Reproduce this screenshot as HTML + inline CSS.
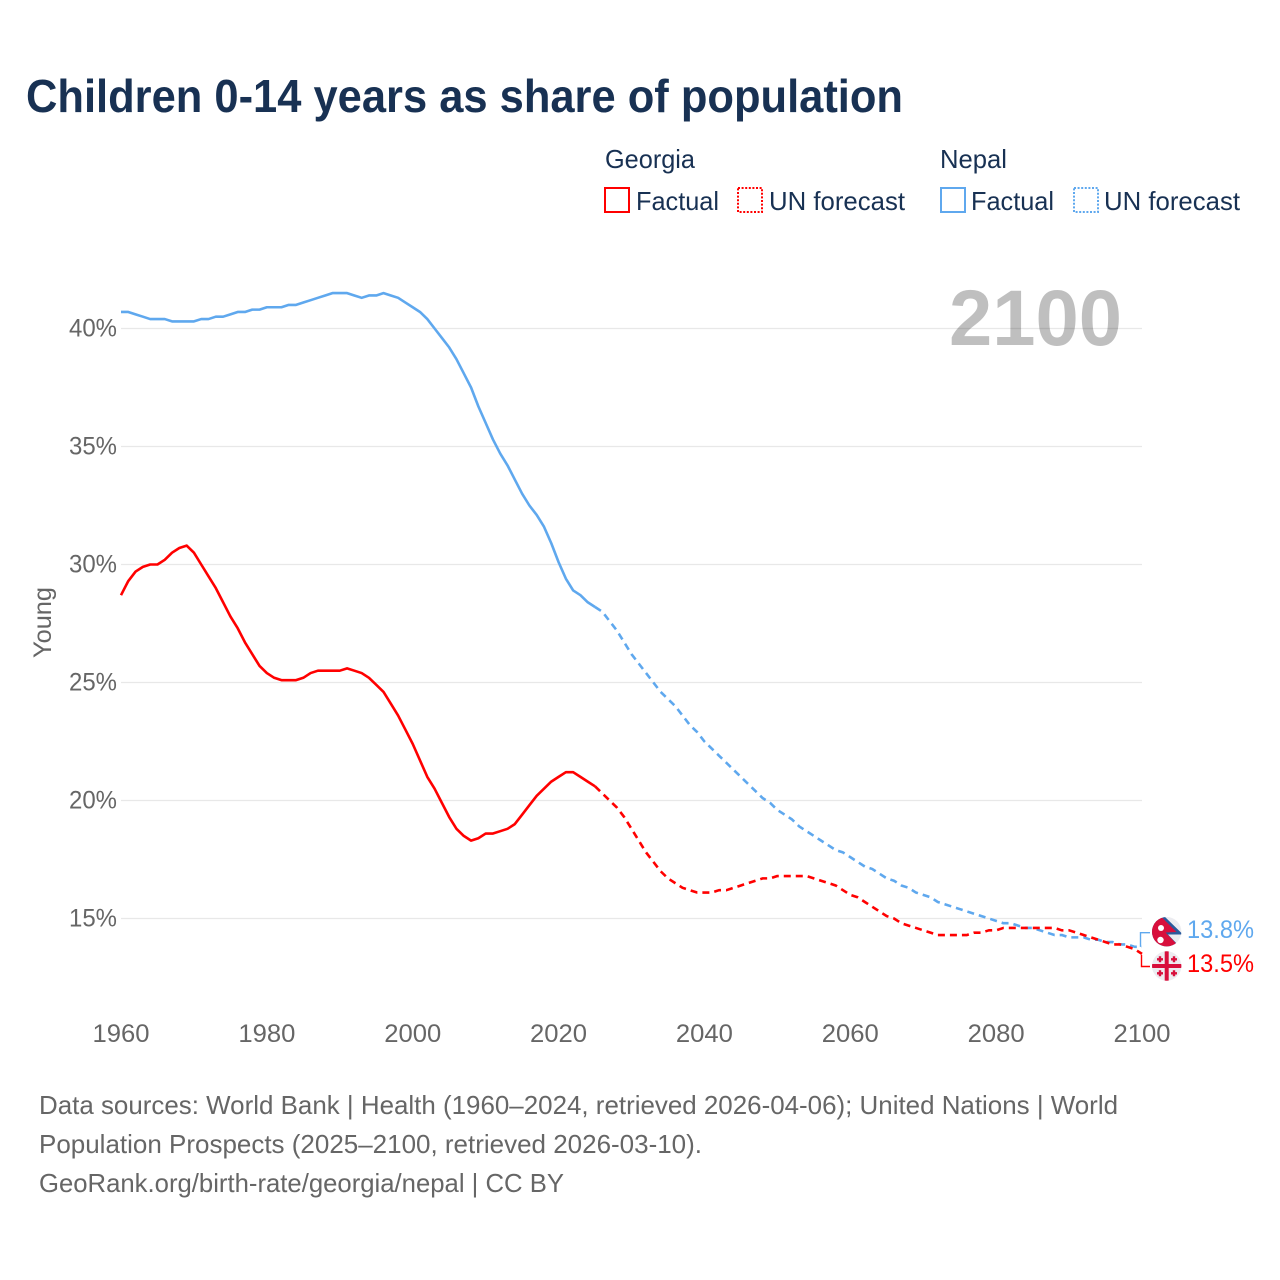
<!DOCTYPE html>
<html>
<head>
<meta charset="utf-8">
<title>Children 0-14 years as share of population</title>
<style>
html,body{margin:0;padding:0;background:#fff;width:1280px;height:1280px;overflow:hidden}
svg{display:block;font-family:"Liberation Sans",sans-serif}
</style>
</head>
<body>
<svg id="chart" width="1280" height="1280" viewBox="0 0 1280 1280" xmlns="http://www.w3.org/2000/svg">
  <rect width="1280" height="1280" fill="#fff"/>
  <text x="26" y="112" font-size="46" font-weight="700" fill="#183153" textLength="877" lengthAdjust="spacingAndGlyphs">Children 0-14 years as share of population</text>

  <g font-size="26" fill="#183153">
    <text x="605" y="168" textLength="90" lengthAdjust="spacingAndGlyphs">Georgia</text>
    <rect x="605" y="188" width="24" height="24" fill="none" stroke="#ff0000" stroke-width="2"/>
    <text x="636" y="210" textLength="83" lengthAdjust="spacingAndGlyphs">Factual</text>
    <rect x="738" y="188" width="24" height="24" fill="none" stroke="#ff0000" stroke-width="2" stroke-dasharray="2 1.6"/>
    <text x="769" y="210" textLength="136" lengthAdjust="spacingAndGlyphs">UN forecast</text>
    <text x="940" y="168" textLength="67" lengthAdjust="spacingAndGlyphs">Nepal</text>
    <rect x="941" y="188" width="24" height="24" fill="none" stroke="#5fa8ee" stroke-width="2"/>
    <text x="971" y="210" textLength="83" lengthAdjust="spacingAndGlyphs">Factual</text>
    <rect x="1074" y="188" width="24" height="24" fill="none" stroke="#5fa8ee" stroke-width="2" stroke-dasharray="2 1.6"/>
    <text x="1104" y="210" textLength="136" lengthAdjust="spacingAndGlyphs">UN forecast</text>
  </g>

  <g id="grid"></g>
  <g id="yticks" font-size="25" fill="#666"></g>
  <g id="xticks" font-size="25" fill="#666"></g>
  <text transform="translate(51,658) rotate(-90)" font-size="25" fill="#666" textLength="71" lengthAdjust="spacingAndGlyphs">Young</text>
  <text x="949" y="345" font-size="79" font-weight="700" fill="#000" fill-opacity="0.25" textLength="173" lengthAdjust="spacingAndGlyphs">2100</text>
  <g id="series"></g>
  <g id="ends" font-size="25"></g>

  <defs>
    <clipPath id="nepal-clip"><circle cx="1166.7" cy="931.7" r="14.7"/></clipPath>
    <clipPath id="georgia-clip"><circle cx="1166.7" cy="966" r="14.7"/></clipPath>
  </defs>
  <g>
    <g clip-path="url(#nepal-clip)">
      <rect x="1150" y="915" width="34" height="34" fill="#ececf0"/>
      <polygon points="1150,906 1164,916 1183,934.5 1168,934.5 1181,948 1181,950 1150,950" fill="#2a5a9c"/>
      <polygon points="1150,908 1163,918.5 1176.5,932 1165.5,932.5 1180,947.5 1180,950 1150,950" fill="#d80f3c"/>
      <circle cx="1161" cy="928" r="3" fill="#fff"/>
      <circle cx="1160.5" cy="940" r="3.2" fill="#fff"/>
    </g>
  </g>
  <g clip-path="url(#georgia-clip)">
    <rect x="1150" y="949" width="34" height="34" fill="#ececf0"/>
    <rect x="1164.7" y="949" width="4" height="34" fill="#d80f3c"/>
    <rect x="1150" y="964" width="34" height="4" fill="#d80f3c"/>
    <path d="M1158.8 956.3h2.4v1.8h1.8v2.4h-1.8v1.8h-2.4v-1.8h-1.8v-2.4h1.8zM1172.8 956.3h2.4v1.8h1.8v2.4h-1.8v1.8h-2.4v-1.8h-1.8v-2.4h1.8zM1158.8 970.3h2.4v1.8h1.8v2.4h-1.8v1.8h-2.4v-1.8h-1.8v-2.4h1.8zM1172.8 970.3h2.4v1.8h1.8v2.4h-1.8v1.8h-2.4v-1.8h-1.8v-2.4h1.8z" fill="#d80f3c"/>
  </g>

  <g font-size="26" fill="#666">
    <text x="39" y="1114" textLength="1079" lengthAdjust="spacingAndGlyphs">Data sources: World Bank | Health (1960–2024, retrieved 2026-04-06); United Nations | World</text>
    <text x="39" y="1153" textLength="663" lengthAdjust="spacingAndGlyphs">Population Prospects (2025–2100, retrieved 2026-03-10).</text>
    <text x="39" y="1192" textLength="525" lengthAdjust="spacingAndGlyphs">GeoRank.org/birth-rate/georgia/nepal | CC BY</text>
  </g>
</svg>
<script>
const xTickYears = [1960, 1980, 2000, 2020, 2040, 2060, 2080, 2100];
const yTickValues = [15, 20, 25, 30, 35, 40];
const factualStartYear = 1960;
const forecastStartYear = 2025;
const nepalFactual = [
  40.7,40.7,40.6,40.5,40.4,40.4,40.4,40.3,40.3,40.3,
  40.3,40.4,40.4,40.5,40.5,40.6,40.7,40.7,40.8,40.8,
  40.9,40.9,40.9,41.0,41.0,41.1,41.2,41.3,41.4,41.5,
  41.5,41.5,41.4,41.3,41.4,41.4,41.5,41.4,41.3,41.1,
  40.9,40.7,40.4,40.0,39.6,39.2,38.7,38.1,37.5,36.7,
  36.0,35.3,34.7,34.2,33.6,33.0,32.5,32.1,31.6,30.9,
  30.1,29.4,28.9,28.7,28.4,28.2
];
const nepalForecast = [
  28.2,28.0,27.6,27.2,26.7,26.2,25.8,25.4,25.0,24.6,
  24.3,24.0,23.6,23.2,22.9,22.5,22.2,21.9,21.6,21.3,
  21.0,20.7,20.4,20.1,19.9,19.6,19.4,19.2,18.9,18.7,
  18.5,18.3,18.1,17.9,17.8,17.6,17.4,17.2,17.1,16.9,
  16.7,16.6,16.4,16.3,16.1,16.0,15.9,15.7,15.6,15.5,
  15.4,15.3,15.2,15.1,15.0,14.9,14.8,14.8,14.7,14.6,
  14.6,14.5,14.4,14.3,14.3,14.2,14.2,14.2,14.1,14.1,
  14.0,14.0,13.9,13.9,13.8,13.8
];
const georgiaFactual = [
  28.7,29.3,29.7,29.9,30.0,30.0,30.2,30.5,30.7,30.8,
  30.5,30.0,29.5,29.0,28.4,27.8,27.3,26.7,26.2,25.7,
  25.4,25.2,25.1,25.1,25.1,25.2,25.4,25.5,25.5,25.5,
  25.5,25.6,25.5,25.4,25.2,24.9,24.6,24.1,23.6,23.0,
  22.4,21.7,21.0,20.5,19.9,19.3,18.8,18.5,18.3,18.4,
  18.6,18.6,18.7,18.8,19.0,19.4,19.8,20.2,20.5,20.8,
  21.0,21.2,21.2,21.0,20.8,20.6
];
const georgiaForecast = [
  20.6,20.3,20.0,19.7,19.3,18.8,18.3,17.8,17.4,17.0,
  16.7,16.5,16.3,16.2,16.1,16.1,16.1,16.2,16.2,16.3,
  16.4,16.5,16.6,16.7,16.7,16.8,16.8,16.8,16.8,16.8,
  16.7,16.6,16.5,16.4,16.2,16.0,15.9,15.7,15.5,15.3,
  15.1,15.0,14.8,14.7,14.6,14.5,14.4,14.3,14.3,14.3,
  14.3,14.3,14.4,14.4,14.5,14.5,14.6,14.6,14.6,14.6,
  14.6,14.6,14.6,14.6,14.5,14.5,14.4,14.3,14.2,14.1,
  14.0,13.9,13.9,13.8,13.7,13.5
];

const NS = 'http://www.w3.org/2000/svg';
const xScale = function (year) { return 121 + (year - 1960) * (1142 - 121) / 140; };
const yScale = function (value) { return 918.5 - (value - 15) * (918.5 - 328.5) / 25; };
const RED = '#ff0000';
const BLUE = '#5fa8ee';

function svgEl(tag, parent) {
  const el = document.createElementNS(NS, tag);
  parent.appendChild(el);
  return el;
}
function linePoints(values, startYear) {
  return values.map(function (v, i) {
    return xScale(startYear + i).toFixed(2) + ',' + yScale(v).toFixed(2);
  }).join(' ');
}

const gridGroup = document.getElementById('grid');
const yGroup = document.getElementById('yticks');
yTickValues.forEach(function (v) {
  const line = svgEl('line', gridGroup);
  
  
  line.setAttribute('x1', xScale(1960));
  line.setAttribute('x2', xScale(2100));
  line.setAttribute('y1', yScale(v));
  line.setAttribute('y2', yScale(v));
  line.setAttribute('stroke', '#e8e8e8');
  line.setAttribute('stroke-width', '1.3');
  const label = svgEl('text', yGroup);
  
  
  label.setAttribute('x', 69);
  label.setAttribute('y', yScale(v) + 8);
  label.setAttribute('textLength', '48');
  label.setAttribute('lengthAdjust', 'spacingAndGlyphs');
  label.textContent = v + '%';
});

const xGroup = document.getElementById('xticks');
xTickYears.forEach(function (year) {
  const label = svgEl('text', xGroup);
  
  
  label.setAttribute('x', xScale(year) - 28.5);
  label.setAttribute('y', 1042);
  label.setAttribute('textLength', '57');
  label.setAttribute('lengthAdjust', 'spacingAndGlyphs');
  label.textContent = year;
});

const seriesGroup = document.getElementById('series');
function drawLine(name, values, startYear, color, dashed) {
  const line = svgEl('polyline', seriesGroup);
  
  
  line.setAttribute('points', linePoints(values, startYear));
  line.setAttribute('fill', 'none');
  line.setAttribute('stroke', color);
  line.setAttribute('stroke-width', '2.6');
  line.setAttribute('stroke-linejoin', 'round');
  if (dashed) {
    line.setAttribute('stroke-dasharray', '7 5');
  }
}
drawLine('nepal-factual-line', nepalFactual, factualStartYear, BLUE, false);
drawLine('nepal-forecast-line', nepalForecast, forecastStartYear, BLUE, true);
drawLine('georgia-factual-line', georgiaFactual, factualStartYear, RED, false);
drawLine('georgia-forecast-line', georgiaForecast, forecastStartYear, RED, true);

const endGroup = document.getElementById('ends');
const nepalEnd = nepalForecast[nepalForecast.length - 1];
const georgiaEnd = georgiaForecast[georgiaForecast.length - 1];

const nepalConnector = svgEl('polyline', endGroup);


nepalConnector.setAttribute('points', (xScale(2100) - 1.5) + ',' + yScale(nepalEnd) + ' ' + (xScale(2100) - 1.5) + ',932.7 1150,932.7');
nepalConnector.setAttribute('fill', 'none');
nepalConnector.setAttribute('stroke', BLUE);
nepalConnector.setAttribute('stroke-width', '1.4');

const georgiaConnector = svgEl('polyline', endGroup);


georgiaConnector.setAttribute('points', (xScale(2100) - 0.5) + ',' + (yScale(georgiaEnd) + 1) + ' ' + (xScale(2100) - 0.5) + ',966.5 1150,966.5');
georgiaConnector.setAttribute('fill', 'none');
georgiaConnector.setAttribute('stroke', RED);
georgiaConnector.setAttribute('stroke-width', '1.4');

const nepalLabel = svgEl('text', endGroup);


nepalLabel.setAttribute('x', 1187);
nepalLabel.setAttribute('y', 938);
nepalLabel.setAttribute('fill', BLUE);
nepalLabel.setAttribute('textLength', '67');
nepalLabel.setAttribute('lengthAdjust', 'spacingAndGlyphs');
nepalLabel.textContent = nepalEnd.toFixed(1) + '%';

const georgiaLabel = svgEl('text', endGroup);


georgiaLabel.setAttribute('x', 1187);
georgiaLabel.setAttribute('y', 972);
georgiaLabel.setAttribute('fill', RED);
georgiaLabel.setAttribute('textLength', '67');
georgiaLabel.setAttribute('lengthAdjust', 'spacingAndGlyphs');
georgiaLabel.textContent = georgiaEnd.toFixed(1) + '%';
</script>
</body>
</html>
